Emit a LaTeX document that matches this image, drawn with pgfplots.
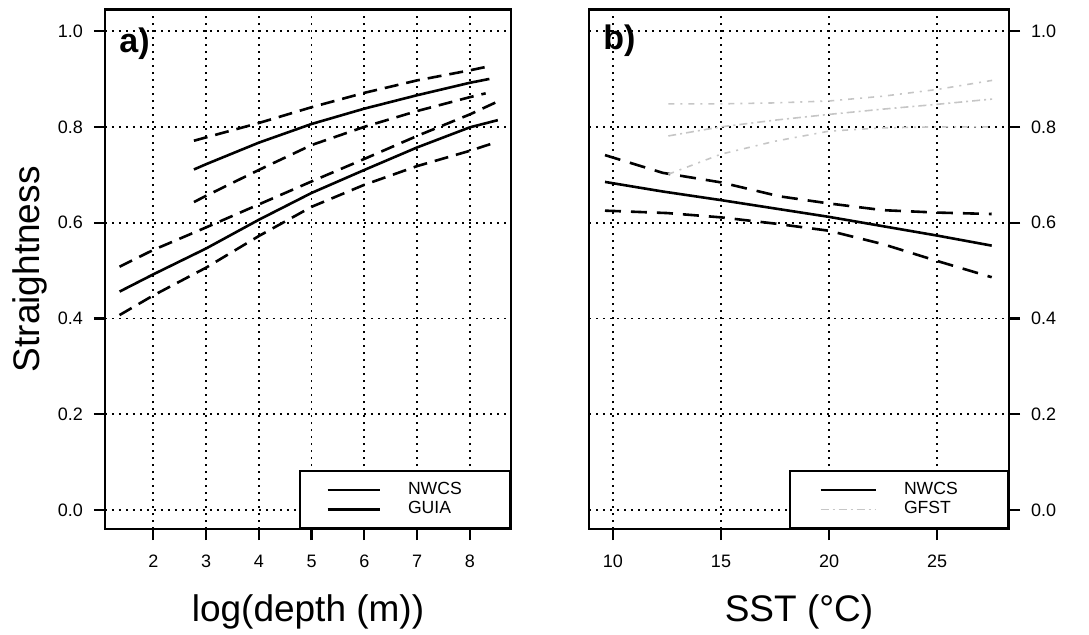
\documentclass[border=0pt]{standalone}
\usepackage{fontspec}
\setmainfont{Liberation Sans}
\usepackage{pgfplots}
\pgfplotsset{compat=1.18}
\begin{document}
\begin{tikzpicture}
\useasboundingbox (-52.5pt,-52.5pt) rectangle (492pt,264.5pt);
\pgfplotsset{
  common/.style={
    scale only axis,
    clip=false,
    height=259.75pt,
    ymin=-0.0397, ymax=1.045,
    ytick={0,0.2,0.4,0.6,0.8,1.0},
    yticklabel style={/pgf/number format/fixed, /pgf/number format/fixed zerofill, /pgf/number format/precision=1},
    /pgf/number format/assume math mode=true,
    tick label style={font=\fontsize{9}{9}\selectfont},
    axis line style={line width=1.1pt},
    tick align=outside,
    major tick length=5.5pt,
    tick style={draw=black, line width=1.1pt, solid},
    xtick pos=left,
    xticklabel style={yshift=-4pt},
    label style={font=\fontsize{18.5}{20}\selectfont},
    legend style={at={(rel axis cs:1,0)}, anchor=south east, draw=black, line width=1pt,
      inner xsep=13pt, inner ysep=5.6pt, row sep=2.2pt,
      nodes={inner sep=0pt, text height=6pt, text depth=1.5pt, font=\fontsize{8.8}{9}\selectfont}},
    legend cell align=left,
    legend image code/.code={\draw[##1] (0pt,0pt) -- (26pt,0pt);},
    /tikz/every odd column/.append style={column sep=13.5pt},
    mean/.style={black, line width=1.3pt, solid},
    ci/.style={black, line width=1.3pt, dash pattern=on 7pt off 4pt},
    gmean/.style={gray!45, line width=0.8pt, dash pattern=on 4pt off 2pt on 1pt off 2pt},
    gci/.style={gray!45, line width=0.8pt, dash pattern=on 3pt off 3pt on 1pt off 3pt},
  },
  gridonly/.style={
    scale only axis,
    height=259.75pt,
    ymin=-0.0397, ymax=1.045,
    ytick={0,0.2,0.4,0.6,0.8,1.0},
    xticklabels={}, yticklabels={},
    major tick length=0pt,
    axis line style={draw=none},
    grid=major,
    major grid style={black, line width=0.9pt, dash pattern=on 0.9pt off 2.6pt},
  }
}
% grids
\begin{axis}[gridonly, at={(0pt,0pt)}, anchor=south west, width=203pt,
  xmin=1.084, xmax=8.78, xtick={2,3,4,5,6,7,8}]
\end{axis}
\begin{axis}[gridonly, at={(242pt,0pt)}, anchor=south west, width=210pt,
  xmin=8.89, xmax=28.33, xtick={10,15,20,25}]
\end{axis}
% panel a
\begin{axis}[common, at={(0pt,0pt)}, anchor=south west,
  width=203pt,
  xmin=1.084, xmax=8.78,
  xtick={2,3,4,5,6,7,8},
  ytick pos=left,
  yticklabel style={xshift=-2pt},
  xlabel={log(depth (m))},
  ylabel={Straightness},
  xlabel style={at={(axis description cs:0.5,-0.16)}, anchor=center},
  ylabel style={at={(axis description cs:-0.185,0.5)}, anchor=center},
  legend style={nodes={text width=38pt}},
]
\addplot[mean, forget plot] coordinates {(1.36,0.456)(2,0.492)(3,0.546)(4,0.606)(5,0.662)(6,0.710)(7,0.757)(8,0.799)(8.53,0.814)};
\addplot[mean, forget plot] coordinates {(2.77,0.711)(3,0.722)(4,0.767)(5,0.806)(6,0.838)(7,0.866)(8,0.892)(8.37,0.900)};
\addplot[ci, forget plot] coordinates {(1.36,0.508)(2,0.543)(3,0.590)(4,0.638)(5,0.686)(6,0.733)(7,0.781)(8,0.826)(8.53,0.853)};
\addplot[ci, forget plot] coordinates {(1.36,0.407)(2,0.448)(3,0.506)(4,0.572)(5,0.633)(6,0.679)(7,0.718)(8,0.750)(8.53,0.769)};
\addplot[ci, forget plot] coordinates {(2.77,0.771)(3,0.778)(4,0.808)(5,0.841)(6,0.871)(7,0.897)(8,0.918)(8.30,0.925)};
\addplot[ci, forget plot] coordinates {(2.77,0.643)(3,0.656)(4,0.710)(5,0.762)(6,0.800)(7,0.833)(8,0.862)(8.30,0.870)};
\addlegendimage{mean}
\addlegendentry{NWCS}
\addlegendimage{mean}
\addlegendentry{GUIA}
\pgfplotsinvokeforeach{2,3,4,5,6,7,8}{\draw[draw=black, line width=1.1pt] (axis cs:#1,-0.0397) -- ++(0pt,-5.5pt);}
\pgfplotsinvokeforeach{0,0.2,0.4,0.6,0.8,1.0}{\draw[draw=black, line width=1.1pt] (axis cs:1.084,#1) -- ++(-5.5pt,0pt);}
\node[anchor=base west, inner sep=0pt, font=\fontsize{17}{17}\selectfont\bfseries] at (rel axis cs:0,1) [xshift=7pt, yshift=-21.5pt] {a)};
\end{axis}
% panel b
\begin{axis}[common, at={(242pt,0pt)}, anchor=south west,
  width=210pt,
  xmin=8.89, xmax=28.33,
  xtick={10,15,20,25},
  ytick pos=right,
  yticklabel pos=right,
  yticklabel style={xshift=2pt},
  xlabel={SST (°C)},
  xlabel style={at={(axis description cs:0.5,-0.16)}, anchor=center},
  legend style={inner xsep=14.5pt, nodes={text width=37.5pt}},
  legend image code/.code={\draw[#1] (0pt,0pt) -- (27.5pt,0pt);},
]
\addplot[mean, forget plot] coordinates {(9.63,0.685)(12.3,0.665)(15,0.647)(20,0.612)(25,0.573)(27.53,0.552)};
\addplot[ci, dash pattern=on 8pt off 5pt, forget plot] coordinates {(9.63,0.741)(12.3,0.704)(15,0.684)(17.7,0.655)(20,0.640)(22.5,0.626)(25,0.621)(27.53,0.618)};
\addplot[ci, dash pattern=on 8pt off 5pt, forget plot] coordinates {(9.63,0.625)(12.5,0.620)(15,0.611)(17.5,0.598)(20,0.583)(22.5,0.555)(25,0.520)(27.53,0.486)};
\addplot[gmean, forget plot] coordinates {(12.56,0.781)(15,0.800)(17.5,0.814)(20,0.826)(22.5,0.837)(25,0.847)(27.55,0.858)};
\addplot[gci, forget plot] coordinates {(12.56,0.701)(15,0.743)(17.5,0.770)(20,0.791)(22.5,0.798)(25,0.800)(27.55,0.800)};
\addplot[gci, forget plot] coordinates {(12.56,0.848)(15,0.848)(17.5,0.850)(20,0.854)(22.5,0.864)(25,0.878)(27.55,0.897)};
\addlegendimage{mean}
\addlegendentry{NWCS}
\addlegendimage{gmean}
\addlegendentry{GFST}
\pgfplotsinvokeforeach{10,15,20,25}{\draw[draw=black, line width=1.1pt] (axis cs:#1,-0.0397) -- ++(0pt,-5.5pt);}
\pgfplotsinvokeforeach{0,0.2,0.4,0.6,0.8,1.0}{\draw[draw=black, line width=1.1pt] (axis cs:28.33,#1) -- ++(5.5pt,0pt);}
\node[anchor=base west, inner sep=0pt, font=\fontsize{17}{17}\selectfont\bfseries] at (rel axis cs:0,1) [xshift=7pt, yshift=-20pt] {b)};
\end{axis}
\end{tikzpicture}
\end{document}
